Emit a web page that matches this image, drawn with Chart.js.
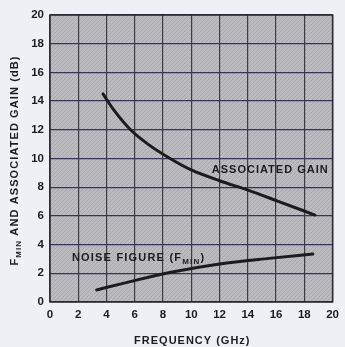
<!DOCTYPE html>
<html>
<head>
<meta charset="utf-8">
<script src="https://cdn.jsdelivr.net/npm/chart.js@4/dist/chart.umd.min.js"></script>
<style>
  html, body { margin: 0; padding: 0; background: #eef0f6; }
  #wrap { width: 345px; height: 347px; position: relative; }
</style>
</head>
<body>
<div id="wrap"><canvas id="c" width="345" height="347"></canvas></div>
<script>
// Associated gain vs frequency
const gainFreq = [3.75, 4.5, 5.7, 7.0, 8.5, 10.0, 12.0, 14.0, 16.2, 18.75];
const gainDb   = [14.5, 13.4, 12.0, 10.95, 10.0, 9.2, 8.45, 7.8, 7.0, 6.06];
// Minimum noise figure vs frequency
const nfFreq = [3.3, 5.1, 8.56, 12.0, 15.5, 18.6];
const nfDb   = [0.84, 1.28, 2.07, 2.65, 3.04, 3.34];
// Axis ticks
const xTicks = [0, 2, 4, 6, 8, 10, 12, 14, 16, 18, 20];
const yTicks = [0, 2, 4, 6, 8, 10, 12, 14, 16, 18, 20];

const FONT = '"Liberation Sans", Arial, sans-serif';
const INK = '#1c1c1e';

function pts(xs, ys) { return xs.map((x, i) => ({ x: x, y: ys[i] })); }

// Shaded plot area with fine diagonal hatching
function makeHatch(ctx) {
  const p = document.createElement('canvas');
  p.width = 4; p.height = 4;
  const g = p.getContext('2d');
  g.fillStyle = '#bcbcc0';
  g.fillRect(0, 0, 4, 4);
  g.strokeStyle = 'rgba(150,150,158,0.55)';
  g.lineWidth = 1;
  g.beginPath();
  g.moveTo(0, 4); g.lineTo(4, 0);
  g.stroke();
  return ctx.createPattern(p, 'repeat');
}

// Draws a run of text pieces (normal / subscript) starting at x
function drawRun(ctx, parts, x, y, spacing) {
  ctx.letterSpacing = spacing + 'px';
  parts.forEach(p => {
    ctx.font = p.f;
    ctx.fillText(p.t, x, y + (p.dy || 0));
    x += ctx.measureText(p.t).width;
  });
  return x;
}
function runWidth(ctx, parts, spacing) {
  ctx.letterSpacing = spacing + 'px';
  let w = 0;
  parts.forEach(p => { ctx.font = p.f; w += ctx.measureText(p.t).width; });
  return w;
}

const areaBg = {
  id: 'areaBg',
  beforeDraw(chart) {
    const { ctx, chartArea: a } = chart;
    ctx.save();
    ctx.fillStyle = makeHatch(ctx);
    ctx.fillRect(a.left, a.top, a.right - a.left, a.bottom - a.top);
    ctx.restore();
  }
};

const B11 = 'bold 11px ' + FONT;
const B8 = 'bold 8px ' + FONT;

// Curve captions, axis titles and frame
const labels = {
  id: 'labels',
  afterDatasetsDraw(chart) {
    const { ctx, chartArea: a, scales } = chart;
    const sx = scales.x, sy = scales.y;
    ctx.save();
    ctx.fillStyle = INK;
    ctx.textBaseline = 'middle';
    ctx.textAlign = 'left';

    drawRun(ctx, [{ t: 'ASSOCIATED GAIN', f: B11 }],
      sx.getPixelForValue(11.45), sy.getPixelForValue(9.2), 1);

    drawRun(ctx, [
      { t: 'NOISE FIGURE (F', f: B11 },
      { t: 'MIN', f: B8, dy: 4 },
      { t: ')', f: B11 }
    ], sx.getPixelForValue(1.55), sy.getPixelForValue(3.1), 1.2);

    ctx.letterSpacing = '0px';
    ctx.strokeStyle = '#2a2a30';
    ctx.lineWidth = 1.5;
    ctx.strokeRect(a.left, a.top, a.right - a.left, a.bottom - a.top);
    ctx.restore();
  },
  afterDraw(chart) {
    const { ctx, chartArea: a } = chart;
    ctx.save();
    ctx.fillStyle = INK;
    ctx.textBaseline = 'middle';
    ctx.textAlign = 'left';

    // horizontal axis title
    const xt = [{ t: 'FREQUENCY (GHz)', f: B11 }];
    const xw = runWidth(ctx, xt, 1);
    drawRun(ctx, xt, (a.left + a.right) / 2 - xw / 2 + 1, 341, 1);

    // vertical axis title
    ctx.translate(15, (a.top + a.bottom) / 2 + 2);
    ctx.rotate(-Math.PI / 2);
    const yt = [
      { t: 'F', f: B11 },
      { t: 'MIN', f: B8, dy: 4 },
      { t: ' AND ASSOCIATED GAIN (dB)', f: B11 }
    ];
    const yw = runWidth(ctx, yt, 1.1);
    drawRun(ctx, yt, -yw / 2, 0, 1.1);
    ctx.restore();
  }
};

const lineStyle = {
  showLine: true,
  borderColor: INK,
  borderWidth: 3,
  pointRadius: 0,
  cubicInterpolationMode: 'monotone',
  borderCapStyle: 'round',
  fill: false
};

new Chart(document.getElementById('c'), {
  type: 'scatter',
  data: {
    datasets: [
      Object.assign({ label: 'Associated gain', data: pts(gainFreq, gainDb) }, lineStyle),
      Object.assign({ label: 'Noise figure', data: pts(nfFreq, nfDb) }, lineStyle)
    ]
  },
  options: {
    responsive: false,
    animation: false,
    devicePixelRatio: 1,
    layout: { padding: { left: 0, top: 15, right: 7, bottom: 0 } },
    plugins: { legend: { display: false }, tooltip: { enabled: false } },
    scales: {
      x: {
        type: 'linear',
        min: 0, max: 20,
        afterBuildTicks(s) { s.ticks = xTicks.map(v => ({ value: v })); },
        afterFit(s) { s.height = 45; },
        grid: { color: '#3c3c44', lineWidth: 1.2, drawTicks: false },
        border: { display: false },
        ticks: {
          padding: 6,
          color: INK,
          font: { family: FONT, size: 11.5, weight: 'bold' },
          maxRotation: 0
        },
        title: { display: false }
      },
      y: {
        type: 'linear',
        min: 0, max: 20,
        afterBuildTicks(s) { s.ticks = yTicks.map(v => ({ value: v })); },
        afterFit(s) { s.width = 50; },
        grid: { color: '#3b3258', lineWidth: 1.3, drawTicks: false },
        border: { display: false },
        ticks: {
          padding: 6,
          color: INK,
          font: { family: FONT, size: 11.5, weight: 'bold' }
        }
      }
    }
  },
  plugins: [areaBg, labels]
});
</script>
</body>
</html>
